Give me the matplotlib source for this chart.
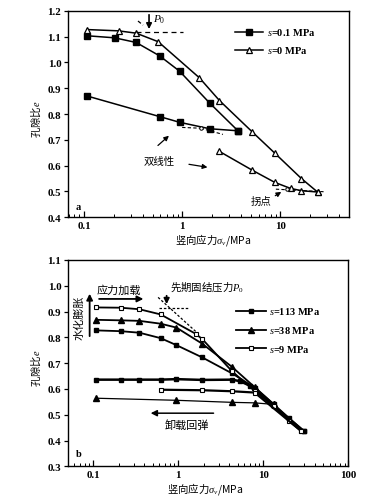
import matplotlib
matplotlib.use('Agg')
import matplotlib.pyplot as plt
from matplotlib.ticker import FixedLocator, FixedFormatter, LogLocator, NullFormatter, MultipleLocator, FormatStrFormatter

plt.rcParams['font.family'] = ['Liberation Serif', 'Noto Sans CJK SC']
plt.rcParams['mathtext.fontset'] = 'custom'
plt.rcParams['mathtext.rm'] = 'Liberation Serif'
plt.rcParams['mathtext.it'] = 'Liberation Serif:italic'
plt.rcParams['mathtext.bf'] = 'Liberation Serif:bold'

# ---------------- Panel a data ----------------
a_s01_load_x = [0.107, 0.205, 0.34, 0.59, 0.94, 1.9, 3.7]
a_s01_load_e = [1.103, 1.095, 1.077, 1.025, 0.966, 0.843, 0.735]
a_s01_unload_x = [3.7, 1.9, 0.94, 0.59, 0.107]
a_s01_unload_e = [0.735, 0.743, 0.768, 0.790, 0.870]
a_s0_load_x = [0.107, 0.225, 0.34, 0.57, 1.5, 2.4, 5.2, 8.8, 16.4, 23.9]
a_s0_load_e = [1.127, 1.122, 1.113, 1.080, 0.940, 0.852, 0.730, 0.648, 0.550, 0.498]
a_s0_unload_x = [23.9, 16.4, 12.7, 8.8, 5.2, 2.4]
a_s0_unload_e = [0.498, 0.503, 0.512, 0.535, 0.582, 0.655]
a_labels = ['$s$=0.1 MPa', '$s$=0 MPa']

# ---------------- Panel b data ----------------
b_s113_load_x = [0.109, 0.21, 0.35, 0.62, 0.95, 1.92, 4.3, 7.9, 13.3, 20, 30]
b_s113_load_e = [0.827, 0.824, 0.818, 0.797, 0.770, 0.722, 0.660, 0.605, 0.540, 0.487, 0.436]
b_s113_unload_x = [30, 6.9, 5.3, 4.3, 1.92, 0.95, 0.62, 0.35, 0.21, 0.109]
b_s113_unload_e = [0.436, 0.613, 0.630, 0.636, 0.635, 0.638, 0.636, 0.636, 0.636, 0.636]
b_s38_load_x = [0.109, 0.21, 0.35, 0.62, 0.95, 1.92, 4.3, 7.9, 13.3]
b_s38_load_e = [0.868, 0.866, 0.864, 0.853, 0.838, 0.775, 0.685, 0.607, 0.540]
b_s38_unload_x = [13.3, 7.9, 4.3, 0.95, 0.109]
b_s38_unload_e = [0.540, 0.546, 0.548, 0.556, 0.564]
b_s9_load_x = [0.109, 0.21, 0.35, 0.62, 1.6, 1.92, 4.3, 7.9, 13.3, 20, 27.5]
b_s9_load_e = [0.916, 0.915, 0.909, 0.889, 0.814, 0.793, 0.668, 0.592, 0.535, 0.475, 0.438]
b_s9_unload_x = [27.5, 7.9, 4.3, 1.92, 0.62]
b_s9_unload_e = [0.438, 0.586, 0.591, 0.595, 0.597]
b_labels = ['$s$=113 MPa', '$s$=38 MPa', '$s$=9 MPa']

a_xticks = [0.1, 1, 10]
a_xticklabels = ['0.1', '1', '10']
b_xticks = [0.1, 1, 10, 100]
b_xticklabels = ['0.1', '1', '10', '100']

CJK = ['Liberation Serif', 'Noto Sans CJK SC']
CJKM = ['Noto Sans CJK SC', 'Liberation Serif']
fs = 7.5

fig = plt.figure(figsize=(3.92, 5.02), dpi=100)
axa = fig.add_axes([0.1722, 0.5651, 0.7181, 0.4116])
axb = fig.add_axes([0.1722, 0.0691, 0.7168, 0.4110])


def style(ax, xticks, xlabels, ylo, yhi):
    ax.set_xscale('log')
    ax.xaxis.set_major_locator(FixedLocator(xticks))
    ax.xaxis.set_major_formatter(FixedFormatter(xlabels))
    ax.xaxis.set_minor_locator(LogLocator(base=10, subs=range(2, 10), numticks=20))
    ax.xaxis.set_minor_formatter(NullFormatter())
    ax.set_ylim(ylo, yhi)
    ax.yaxis.set_major_locator(MultipleLocator(0.1))
    ax.yaxis.set_major_formatter(FormatStrFormatter('%.1f'))
    ax.tick_params(axis='x', which='major', direction='in', length=4, width=0.9, labelsize=fs + 0.3, pad=3)
    ax.tick_params(axis='x', which='minor', direction='in', length=2.5, width=0.7)
    ax.tick_params(axis='y', which='major', direction='out', length=3, width=0.9, labelsize=fs + 0.3, pad=1.5)
    for lab in ax.get_xticklabels() + ax.get_yticklabels():
        lab.set_fontweight('bold')
    for sp in ax.spines.values():
        sp.set_linewidth(1.0)
    ax.set_ylabel('孔隙比$e$', family=CJKM, fontsize=fs)
    ax.set_xlabel('竖向应力$\\sigma_v$/MPa', family=CJKM, fontsize=fs)
    ax.yaxis.set_label_coords(-0.086, 0.48)


# ---------------- Panel a ----------------
style(axa, a_xticks, a_xticklabels, 0.4, 1.2)
axa.set_xlim(0.068, 50)
axa.xaxis.set_label_coords(0.517, -0.068)
lw = 1.1
l1, = axa.plot(a_s01_load_x, a_s01_load_e, '-s', color='k', lw=lw, ms=4, mfc='k')
axa.plot(a_s01_unload_x, a_s01_unload_e, '-s', color='k', lw=lw, ms=4, mfc='k')
l2, = axa.plot(a_s0_load_x, a_s0_load_e, '-^', color='k', lw=lw, ms=4.8, mfc='white', mew=0.9)
axa.plot(a_s0_unload_x, a_s0_unload_e, '-^', color='k', lw=lw, ms=4.8, mfc='white', mew=0.9)

# dashed construction lines
axa.plot([0.34, 1.03], [1.117, 1.117], ls=(0, (4, 3)), color='k', lw=0.9)
axa.plot([0.355, 0.40], [1.160, 1.144], ls=(0, (3, 2)), color='k', lw=0.9)
axa.plot([1.0, 1.54], [0.748, 0.745], ls=(0, (3, 2)), color='k', lw=0.8)
axa.plot([1.54, 2.6], [0.745, 0.721], ls=(0, (3, 2)), color='k', lw=0.8)
axa.plot([9.0, 28.0], [0.509, 0.499], ls=(0, (3, 2)), color='k', lw=0.8)
axa.plot([1.54, 11.7], [0.745, 0.508], ls='none', marker='o', ms=2.5, mfc='white', mec='k', mew=0.7)

axa.annotate('', xy=(0.46, 1.118), xytext=(0.46, 1.195),
             arrowprops=dict(arrowstyle='-|>', color='k', lw=1.2, mutation_scale=8))
axa.text(0.50, 1.170, '$P_0$', fontsize=fs + 0.5, ha='left', va='center')
axa.text(0.59, 0.617, '双线性', family=CJK, fontsize=fs, ha='center', va='center')
axa.annotate('', xy=(0.77, 0.723), xytext=(0.54, 0.671),
             arrowprops=dict(arrowstyle='-|>', color='k', lw=0.9, mutation_scale=7))
axa.annotate('', xy=(1.93, 0.592), xytext=(1.1, 0.607),
             arrowprops=dict(arrowstyle='-|>', color='k', lw=0.9, mutation_scale=7))
axa.text(6.4, 0.464, '拐点', family=CJK, fontsize=fs, ha='center', va='center')
axa.annotate('', xy=(10.8, 0.504), xytext=(8.4, 0.478),
             arrowprops=dict(arrowstyle='-|>', color='k', lw=0.9, mutation_scale=7))
axa.text(0.030, 0.05, 'a', transform=axa.transAxes, fontsize=fs, fontweight='bold', ha='left', va='center')

leg = axa.legend([l1, l2], a_labels, loc='upper left', bbox_to_anchor=(0.595, 0.925),
                 frameon=False, handlelength=2.7, handletextpad=0.35, labelspacing=0.7,
                 borderpad=0, borderaxespad=0, prop={'size': fs, 'weight': 'bold'})

# ---------------- Panel b ----------------
style(axb, b_xticks, b_xticklabels, 0.3, 1.1)
axb.set_xlim(0.05, 100)
axb.xaxis.set_label_coords(0.49, -0.068)
lw = 1.3
ms = 3.4
m1, = axb.plot(b_s113_load_x, b_s113_load_e, '-s', color='k', lw=lw, ms=ms, mfc='k')
axb.plot(b_s113_unload_x, b_s113_unload_e, '-s', color='k', lw=lw + 0.5, ms=ms, mfc='k')
m2, = axb.plot(b_s38_load_x, b_s38_load_e, '-^', color='k', lw=lw, ms=ms + 0.6, mfc='k')
axb.plot(b_s38_unload_x, b_s38_unload_e, '-^', color='k', lw=0.9, ms=ms + 0.6, mfc='k')
m3, = axb.plot(b_s9_load_x, b_s9_load_e, '-s', color='k', lw=lw, ms=ms, mfc='white', mew=0.8)
axb.plot(b_s9_unload_x, b_s9_unload_e, '-s', color='k', lw=lw + 0.3, ms=ms, mfc='white', mew=0.8)

axb.plot([0.6, 1.3], [0.914, 0.914], ls=(0, (2, 1.5)), color='k', lw=0.9)
axb.plot([0.58, 1.64], [0.955, 0.820], ls=(0, (2, 1.5)), color='k', lw=0.9)

axb.annotate('', xy=(0.091, 0.980), xytext=(0.091, 0.794),
             arrowprops=dict(arrowstyle='-|>', color='k', lw=1.3, mutation_scale=9))
axb.text(0.069, 0.88, '水化膨胀', family=CJK, fontsize=fs + 0.5, rotation=90, ha='center', va='center')
axb.text(0.2, 0.987, '应力加载', family=CJK, fontsize=fs + 0.5, ha='center', va='center')
axb.annotate('', xy=(0.42, 0.949), xytext=(0.109, 0.949),
             arrowprops=dict(arrowstyle='-|>', color='k', lw=1.3, mutation_scale=9))
axb.text(0.81, 0.998, '先期固结压力$P_0$', family=CJKM, fontsize=fs, ha='left', va='center')
axb.annotate('', xy=(0.73, 0.918), xytext=(0.73, 0.972),
             arrowprops=dict(arrowstyle='-|>', color='k', lw=1.3, mutation_scale=8))
axb.annotate('', xy=(0.44, 0.506), xytext=(2.8, 0.506),
             arrowprops=dict(arrowstyle='-|>', color='k', lw=1.1, mutation_scale=9))
axb.text(1.25, 0.462, '卸载回弹', family=CJK, fontsize=fs + 0.5, ha='center', va='center')
axb.text(0.030, 0.06, 'b', transform=axb.transAxes, fontsize=fs, fontweight='bold', ha='left', va='center')

axb.legend([m1, m2, m3], b_labels, loc='upper left', bbox_to_anchor=(0.6, 0.78),
           frameon=False, handlelength=2.9, handletextpad=0.3, labelspacing=0.75,
           borderpad=0, borderaxespad=0, prop={'size': fs, 'weight': 'bold'})

fig.savefig('out.png', dpi=100, facecolor='white')
